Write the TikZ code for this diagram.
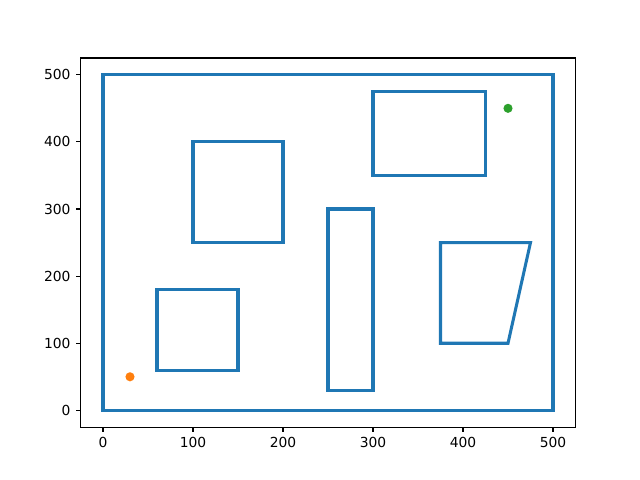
\documentclass[tikz,border=0pt]{standalone}
\usepackage{fontspec}
\setmainfont{DejaVu Sans}
\definecolor{tabblue}{HTML}{1F77B4}
\definecolor{taborange}{HTML}{FF7F0E}
\definecolor{tabgreen}{HTML}{2CA02C}
\tikzset{
  obstacle/.style={draw=tabblue, line width=2.2pt, line join=miter},
  spine/.style={draw=black, line width=0.8pt},
  tickmark/.style={line width=0.8pt},
  ticklabel/.style={font=\fontsize{10}{12}\selectfont, inner sep=0pt},
}
\begin{document}
\begin{tikzpicture}[x=0.009in, y=0.00672in]
  \useasboundingbox (-114.44,-102.9) rectangle (596.67,611.4);

  % axes frame
  \draw[spine] (-25,-25) rectangle (525,525);

  % x ticks
  \foreach \t in {0,100,...,500} {
    \draw[tickmark] (\t,-25) -- ++(0,-3.5pt);
    \node[ticklabel, anchor=north] (xl\t) at ([yshift=-7pt]\t,-25) {\t};
  }
  % y ticks
  \foreach \t in {0,100,...,500} {
    \draw[tickmark] (-25,\t) -- ++(-3.5pt,0);
    \node[ticklabel, anchor=east] (yl\t) at ([xshift=-7pt]-25,\t) {\t};
  }

  % walls and obstacles
  \draw[obstacle] (0,0) rectangle (500,500);
  \draw[obstacle] (100,250) rectangle (200,400);
  \draw[obstacle] (300,350) rectangle (425,475);
  \draw[obstacle] (250,30) rectangle (300,300);
  \draw[obstacle] (60,60) rectangle (150,180);
  \draw[obstacle] (375,100) -- (450,100) -- (475,250) -- (375,250) -- cycle;

  % start and goal
  \fill[taborange] (30,50) circle (3.3pt);
  \fill[tabgreen] (450,450) circle (3.3pt);
\end{tikzpicture}
\end{document}
